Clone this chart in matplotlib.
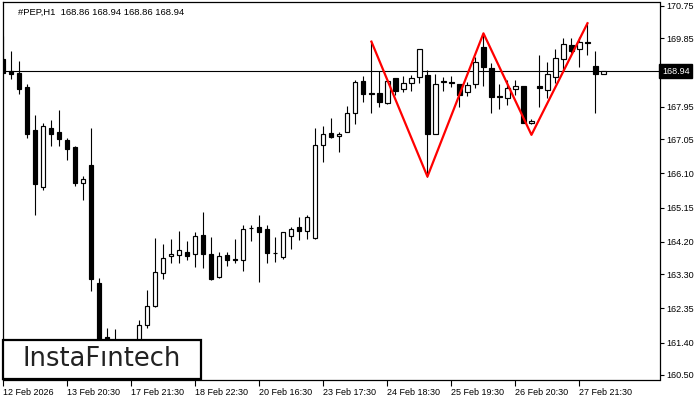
#importing necessary libraries
import numpy as np
import matplotlib.pyplot as plt
from matplotlib.patches import Rectangle

# hourly OHLC for #PEP
opens = [169.27, 168.94, 168.90, 168.49, 167.31, 165.73, 167.37, 167.25, 167.03, 166.84,
         165.84, 166.34, 163.05, 161.56, 161.05, 161.35, 160.85, 161.20, 161.89, 162.42,
         163.32, 163.80, 163.82, 163.92, 163.85, 164.39, 163.86, 163.23, 163.83, 163.71,
         163.69, 164.57, 164.61, 164.55, 163.90, 163.79, 164.37, 164.61, 164.51, 164.30,
         166.88, 167.21, 167.13, 167.24, 167.77, 168.67, 168.32, 168.33, 168.05, 168.74,
         168.44, 168.60, 168.77, 168.83, 167.19, 168.65, 168.63, 168.58, 168.37, 168.58,
         169.60, 169.02, 168.26, 168.19, 168.44, 168.53, 167.49, 168.53, 168.42, 168.77,
         169.27, 169.67, 169.55, 169.74, 169.08, 168.86]
highs = [169.92, 169.50, 169.22, 168.58, 167.72, 167.51, 167.58, 167.86, 167.08, 166.87,
         166.03, 167.37, 163.20, 161.80, 161.77, 161.40, 161.35, 162.03, 162.86, 164.31,
         164.14, 164.28, 164.50, 164.22, 164.46, 165.03, 164.32, 163.92, 163.92, 164.28,
         164.67, 164.67, 164.94, 164.67, 164.32, 164.48, 164.62, 164.89, 164.94, 167.36,
         167.42, 167.63, 167.25, 167.97, 168.69, 168.81, 169.76, 168.93, 168.69, 168.74,
         168.81, 168.83, 169.55, 168.97, 168.86, 168.79, 168.81, 168.58, 168.65, 169.34,
         169.99, 169.16, 168.58, 168.69, 168.69, 168.53, 167.60, 169.39, 169.18, 169.55,
         169.85, 169.85, 169.90, 170.27, 169.50, 168.94]
lows = [168.89, 168.72, 168.31, 167.08, 164.94, 165.64, 166.86, 166.86, 166.47, 165.75,
        165.36, 162.84, 161.10, 160.80, 160.90, 160.65, 160.70, 161.10, 161.80, 162.40,
        163.16, 163.60, 163.60, 163.69, 163.51, 163.48, 163.13, 163.20, 163.53, 163.60,
        163.40, 164.23, 163.09, 163.62, 163.65, 163.72, 164.00, 164.25, 164.28, 164.29,
        166.42, 167.07, 166.68, 167.24, 167.48, 168.09, 167.79, 167.95, 168.03, 168.28,
        168.37, 168.40, 168.62, 166.01, 167.19, 168.40, 168.49, 167.95, 168.25, 168.46,
        168.53, 167.79, 167.88, 168.00, 168.28, 167.49, 167.47, 167.95, 168.19, 168.62,
        168.97, 169.44, 169.06, 169.39, 167.79, 168.86]
closes = [168.90, 168.85, 168.44, 167.19, 165.81, 167.42, 167.20, 167.06, 166.78, 165.84,
          165.94, 163.16, 161.30, 161.00, 161.35, 160.85, 161.20, 161.89, 162.42, 163.36,
          163.74, 163.86, 163.96, 163.81, 164.36, 163.87, 163.17, 163.80, 163.69, 163.69,
          164.55, 164.58, 164.48, 163.90, 163.88, 164.46, 164.55, 164.50, 164.88, 166.88,
          167.19, 167.12, 167.19, 167.77, 168.63, 168.31, 168.31, 168.08, 168.67, 168.40,
          168.60, 168.74, 169.55, 167.19, 168.58, 168.66, 168.61, 168.28, 168.56, 169.19,
          169.06, 168.23, 168.23, 168.46, 168.53, 167.51, 167.56, 168.46, 168.86, 169.30,
          169.69, 169.51, 169.76, 169.72, 168.85, 168.94]

# triple top pattern (bar index, price)
pattern_bar = [46, 53, 60, 66, 73]
pattern_price = [169.76, 166.01, 169.99, 167.17, 170.27]

date_labels = ['12 Feb 2026', '13 Feb 20:30', '17 Feb 21:30', '18 Feb 22:30', '20 Feb 16:30',
               '23 Feb 17:30', '24 Feb 18:30', '25 Feb 19:30', '26 Feb 20:30', '27 Feb 21:30']
price_ticks = [170.75, 169.85, 167.95, 167.05, 166.10, 165.15, 164.20, 163.30, 162.35, 161.40, 160.50]
last_price = 168.94

plt.rcParams['font.family'] = ['Liberation Sans', 'DejaVu Sans']

o = np.array(opens)
h = np.array(highs)
l = np.array(lows)
c = np.array(closes)
x = np.arange(len(o))
up = c >= o

fig = plt.figure(figsize=(7, 4), dpi=100)
ax = fig.add_axes([3/700, 20.5/400, 656.5/700, 377.5/400])

ax.axhline(last_price, color='black', lw=0.8, zorder=1)
ax.vlines(x, l, h, color='black', lw=0.8, zorder=2)
bottom = np.minimum(o, c)
height = np.abs(c - o)
ax.bar(x[up], height[up], bottom=bottom[up], width=0.52, color='white', edgecolor='black', lw=0.85, zorder=3)
ax.bar(x[~up], height[~up], bottom=bottom[~up], width=0.52, color='black', edgecolor='black', lw=0.85, zorder=3)
ax.plot(pattern_bar, pattern_price, color='red', lw=1.6, zorder=4)

ax.set_xlim(-0.04, 82.0)
ax.set_ylim(160.375, 170.86)
for s in ax.spines.values():
    s.set_linewidth(0.9)

ax.yaxis.tick_right()
ax.set_yticks(price_ticks)
ax.set_yticklabels([f'{v:.2f}' for v in price_ticks], fontsize=6.5)
ax.tick_params(axis='y', length=3, width=0.8, pad=2)
ax.set_xticks(range(0, 8 * len(date_labels), 8))
ax.set_xticklabels(date_labels, fontsize=6.5, ha='left')
ax.tick_params(axis='x', length=4, width=0.8, pad=2)

# current price tag on the axis
ax.text(1.004, last_price, f'{last_price:.2f}', transform=ax.get_yaxis_transform(),
        color='white', fontsize=6.5, va='center', ha='left',
        bbox=dict(boxstyle='square,pad=0.3', fc='black', ec='black'))

fig.text(18/700, 1 - 12/400, '#PEP,H1  168.86 168.94 168.86 168.94', fontsize=6.8, va='center')

# logo box
fig.add_artist(Rectangle((3/700, 21/400), 198/700, 39/400, transform=fig.transFigure,
                         fc='white', ec='black', lw=1.6, zorder=10))
fig.text(102/700, 1 - 359/400, 'InstaF\u0131ntech', fontsize=18.5, color='#222222',
         ha='center', va='center', family=['DejaVu Sans'], weight='medium', zorder=11)

plt.savefig('out.png')
